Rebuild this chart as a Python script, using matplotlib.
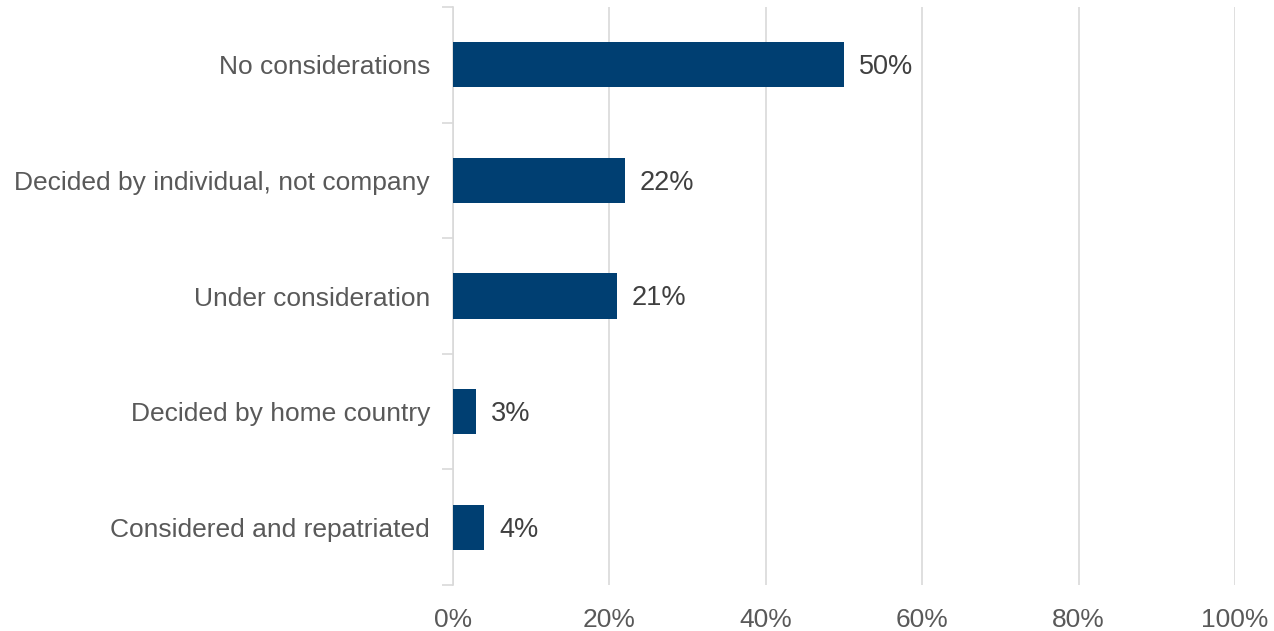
import matplotlib.pyplot as plt
import numpy as np
from matplotlib.ticker import FixedLocator, PercentFormatter

plt.rcParams['font.family'] = ['Liberation Sans', 'DejaVu Sans']

categories = ['No considerations', 'Decided by individual, not company',
              'Under consideration', 'Decided by home country',
              'Considered and repatriated']
values = [50, 22, 21, 3, 4]

bar_color = '#003f72'
text_color = '#595959'
label_color = '#404040'
grid_color = '#d9d9d9'

fig = plt.figure(figsize=(12.74, 6.31), dpi=100)
ax = fig.add_axes([453 / 1274, 46 / 631, 782 / 1274, 578 / 631])

y = np.arange(len(categories))
bars = ax.barh(y, values, height=0.39, color=bar_color, zorder=3)

for rect, v in zip(bars, values):
    ax.text(rect.get_width() + 1.9, rect.get_y() + rect.get_height() / 2 + 0.02,
            f'{v}%', va='center', ha='left', fontsize=19.5, color=label_color)

ax.set_xlim(0, 100)
ax.set_ylim(len(categories) - 0.5, -0.5)
ax.set_xticks(np.arange(0, 101, 20))
ax.xaxis.set_major_formatter(PercentFormatter(decimals=0))
ax.set_yticks(y)
ax.set_yticklabels(categories)
ax.yaxis.set_minor_locator(FixedLocator(np.arange(-0.5, len(categories), 1)))

ax.tick_params(axis='y', which='major', length=0, pad=16.5, labelsize=19, labelcolor=text_color)
ax.tick_params(axis='y', which='minor', length=8, color=grid_color, width=1.2)
ax.tick_params(axis='x', length=0, pad=16.5, labelsize=19, labelcolor=text_color)

ax.grid(axis='x', color=grid_color, linewidth=1.2, zorder=0)
for pos in ['top', 'right', 'bottom']:
    ax.spines[pos].set_visible(False)
ax.spines['left'].set_color(grid_color)
ax.spines['left'].set_linewidth(1.2)

fig.savefig('out.png')
